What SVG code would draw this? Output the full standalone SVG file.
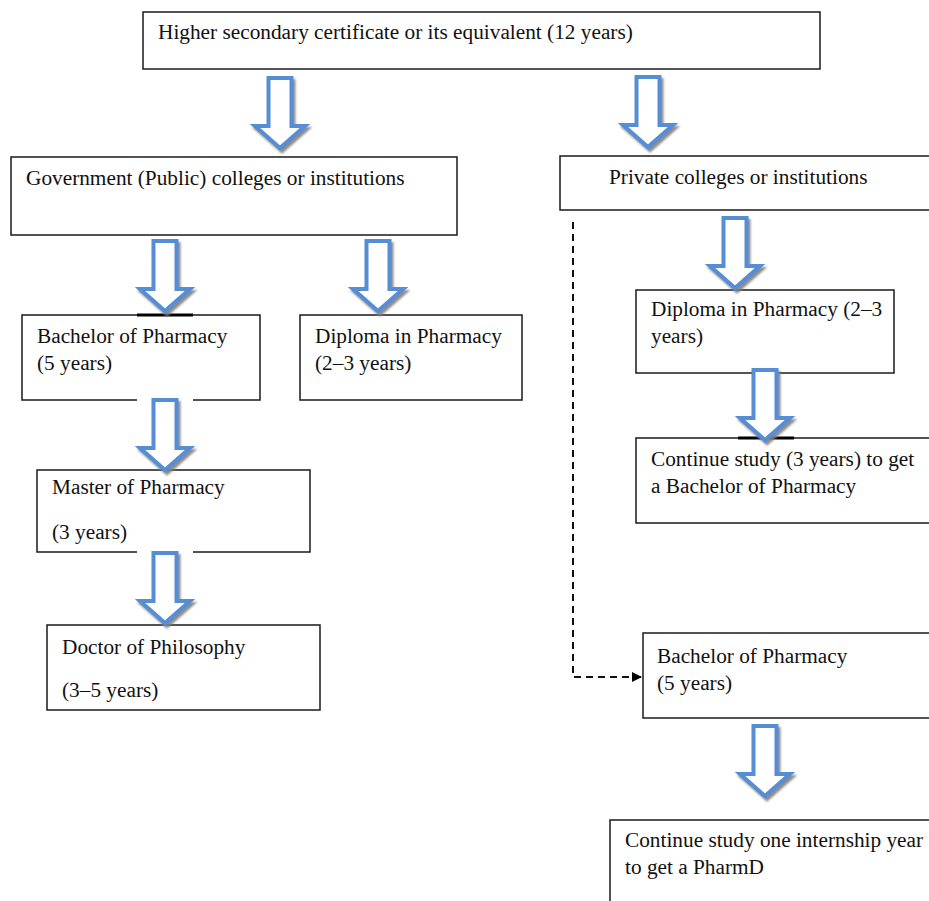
<svg xmlns="http://www.w3.org/2000/svg" width="929" height="901" viewBox="0 0 929 901">
  <defs>
    <style>
      .box { fill: #ffffff; stroke: #1a1a1a; stroke-width: 1.5; }
      .lbl { font-family: "Liberation Serif", "Times New Roman", serif; font-size: 21.3px; fill: #111111; }
      .blk { fill: #ffffff; stroke: #558ed5; stroke-width: 4; stroke-linejoin: miter; }
      .dash { fill: none; stroke: #111111; stroke-width: 2; stroke-dasharray: 7 5; }
      .tick { stroke: #000000; stroke-width: 3; }
      .gap { stroke: #ffffff; stroke-width: 3; }
    </style>
    <filter id="shadow" x="-30%" y="-20%" width="160%" height="150%">
      <feDropShadow dx="2" dy="3" stdDeviation="1.2" flood-color="#7f7f7f" flood-opacity="0.9"/>
    </filter>
    <!-- hollow block arrow pointing down, top centre at the origin, 70 tall -->
    <path id="down" d="M-11.5,0 H11.5 V48 H25 L0,70 L-25,48 H-11.5 Z"/>
    <marker id="tri" markerWidth="10" markerHeight="10" refX="9" refY="5" orient="auto" markerUnits="userSpaceOnUse">
      <path d="M0,0 L10,5 L0,10 Z" fill="#000000"/>
    </marker>
  </defs>

  <rect width="929" height="901" fill="#ffffff"/>

  <!-- boxes -->
  <g id="hsc">
    <rect class="box" x="143" y="12" width="677" height="57"/>
    <text class="lbl" x="158" y="39">Higher secondary certificate or its equivalent (12 years)</text>
  </g>
  <g id="gov">
    <rect class="box" x="11" y="157" width="446" height="78"/>
    <text class="lbl" x="26" y="185">Government (Public) colleges or institutions</text>
  </g>
  <g id="private">
    <rect class="box" x="560" y="156" width="380" height="54"/>
    <text class="lbl" x="609" y="184">Private colleges or institutions</text>
  </g>
  <g id="bpharm-gov">
    <rect class="box" x="22" y="315" width="238" height="85"/>
    <text class="lbl" x="37" y="343">Bachelor of Pharmacy</text>
    <text class="lbl" x="37" y="370">(5 years)</text>
  </g>
  <g id="diploma-gov">
    <rect class="box" x="300" y="315" width="222" height="85"/>
    <text class="lbl" x="315" y="343">Diploma in Pharmacy</text>
    <text class="lbl" x="315" y="370">(2–3 years)</text>
  </g>
  <g id="master">
    <rect class="box" x="37" y="470" width="273" height="82"/>
    <text class="lbl" x="52" y="494">Master of Pharmacy</text>
    <text class="lbl" x="52" y="539">(3 years)</text>
  </g>
  <g id="phd">
    <rect class="box" x="47" y="625" width="273" height="85"/>
    <text class="lbl" x="62" y="654">Doctor of Philosophy</text>
    <text class="lbl" x="62" y="697">(3–5 years)</text>
  </g>
  <g id="diploma-private">
    <rect class="box" x="636" y="290" width="258" height="83"/>
    <text class="lbl" x="651" y="316">Diploma in Pharmacy (2–3</text>
    <text class="lbl" x="651" y="343">years)</text>
  </g>
  <g id="bridge">
    <rect class="box" x="636" y="438" width="300" height="85"/>
    <text class="lbl" x="651" y="466">Continue study (3 years) to get</text>
    <text class="lbl" x="651" y="493">a Bachelor of Pharmacy</text>
  </g>
  <g id="bpharm-private">
    <rect class="box" x="643" y="633" width="290" height="85"/>
    <text class="lbl" x="657" y="663">Bachelor of Pharmacy</text>
    <text class="lbl" x="657" y="690">(5 years)</text>
  </g>
  <g id="pharmd">
    <rect class="box" x="610" y="820" width="330" height="90"/>
    <text class="lbl" x="625" y="847">Continue study one internship year</text>
    <text class="lbl" x="625" y="874">to get a PharmD</text>
  </g>

  <!-- connectors -->
  <g id="connectors">
    <line class="gap" x1="137" y1="400" x2="193" y2="400"/>
    <line class="gap" x1="137" y1="552" x2="193" y2="552"/>
    <line class="tick" x1="137" y1="315" x2="193" y2="315"/>
    <line class="tick" x1="738" y1="438" x2="794" y2="438"/>
    <g filter="url(#shadow)">
      <use href="#down" class="blk" transform="translate(280,78)"/>
      <use href="#down" class="blk" transform="translate(648,77)"/>
      <use href="#down" class="blk" transform="translate(165,241)"/>
      <use href="#down" class="blk" transform="translate(378,241)"/>
      <use href="#down" class="blk" transform="translate(735,218)"/>
      <use href="#down" class="blk" transform="translate(165,400)"/>
      <use href="#down" class="blk" transform="translate(165,553)"/>
      <use href="#down" class="blk" transform="translate(765,370)"/>
      <use href="#down" class="blk" transform="translate(765,726)"/>
    </g>
    <polyline class="dash" points="573,222 573,677 641,677" marker-end="url(#tri)"/>
  </g>
</svg>
